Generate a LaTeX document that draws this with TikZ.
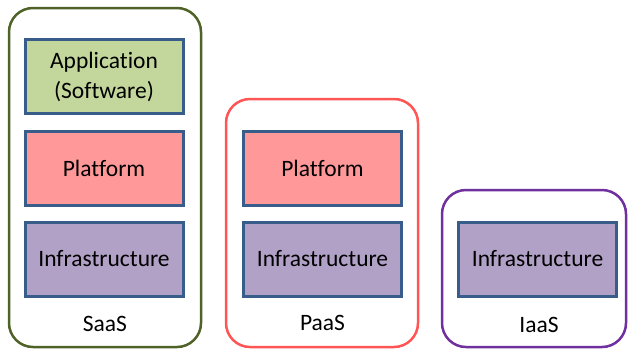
\documentclass[tikz,border=0pt]{standalone}
\usepackage{fontspec}
\setmainfont{Carlito}[Ligatures=NoCommon]
\definecolor{saasline}{HTML}{4F6228}
\definecolor{paasline}{HTML}{FF5555}
\definecolor{iaasline}{HTML}{7030A0}
\definecolor{boxline}{HTML}{385D8A}
\definecolor{appfill}{HTML}{C3D69B}
\definecolor{platfill}{HTML}{FF9999}
\definecolor{infrafill}{HTML}{B2A1C7}
\tikzset{
  outer/.style={draw, line width=2.5pt, rounded corners=24pt},
  layer/.style={draw=boxline, line width=3pt, inner sep=0pt, minimum width=158pt, minimum height=74pt,
    font=\fontsize{23.5}{30}\selectfont, align=center},
  lbl/.style={font=\fontsize{23.5}{28}\selectfont, inner sep=0pt}
}
\begin{document}
\begin{tikzpicture}[x=1pt,y=-1pt]
\useasboundingbox (0,0) rectangle (628,349);
% SaaS
\draw[outer, draw=saasline] (9,8) rectangle (201,347);
\node[layer, fill=appfill] (app) at (104,76.5) {Application\\(Software)};
\node[layer, fill=platfill] (plat1) at (104,168) {Platform};
\node[layer, fill=infrafill] (inf1) at (104,259) {Infrastructure};
\node[lbl] (saas) at (105,324) {SaaS};
% PaaS
\draw[outer, draw=paasline] (226,99) rectangle (418,347);
\node[layer, fill=platfill] (plat2) at (322.5,168) {Platform};
\node[layer, fill=infrafill] (inf2) at (322.5,259) {Infrastructure};
\node[lbl] (paas) at (322.5,323) {PaaS};
% IaaS
\draw[outer, draw=iaasline] (442,190) rectangle (626,347);
\node[layer, fill=infrafill] (inf3) at (537.5,259) {Infrastructure};
\node[lbl] (iaas) at (539,325) {IaaS};
\end{tikzpicture}
\end{document}
